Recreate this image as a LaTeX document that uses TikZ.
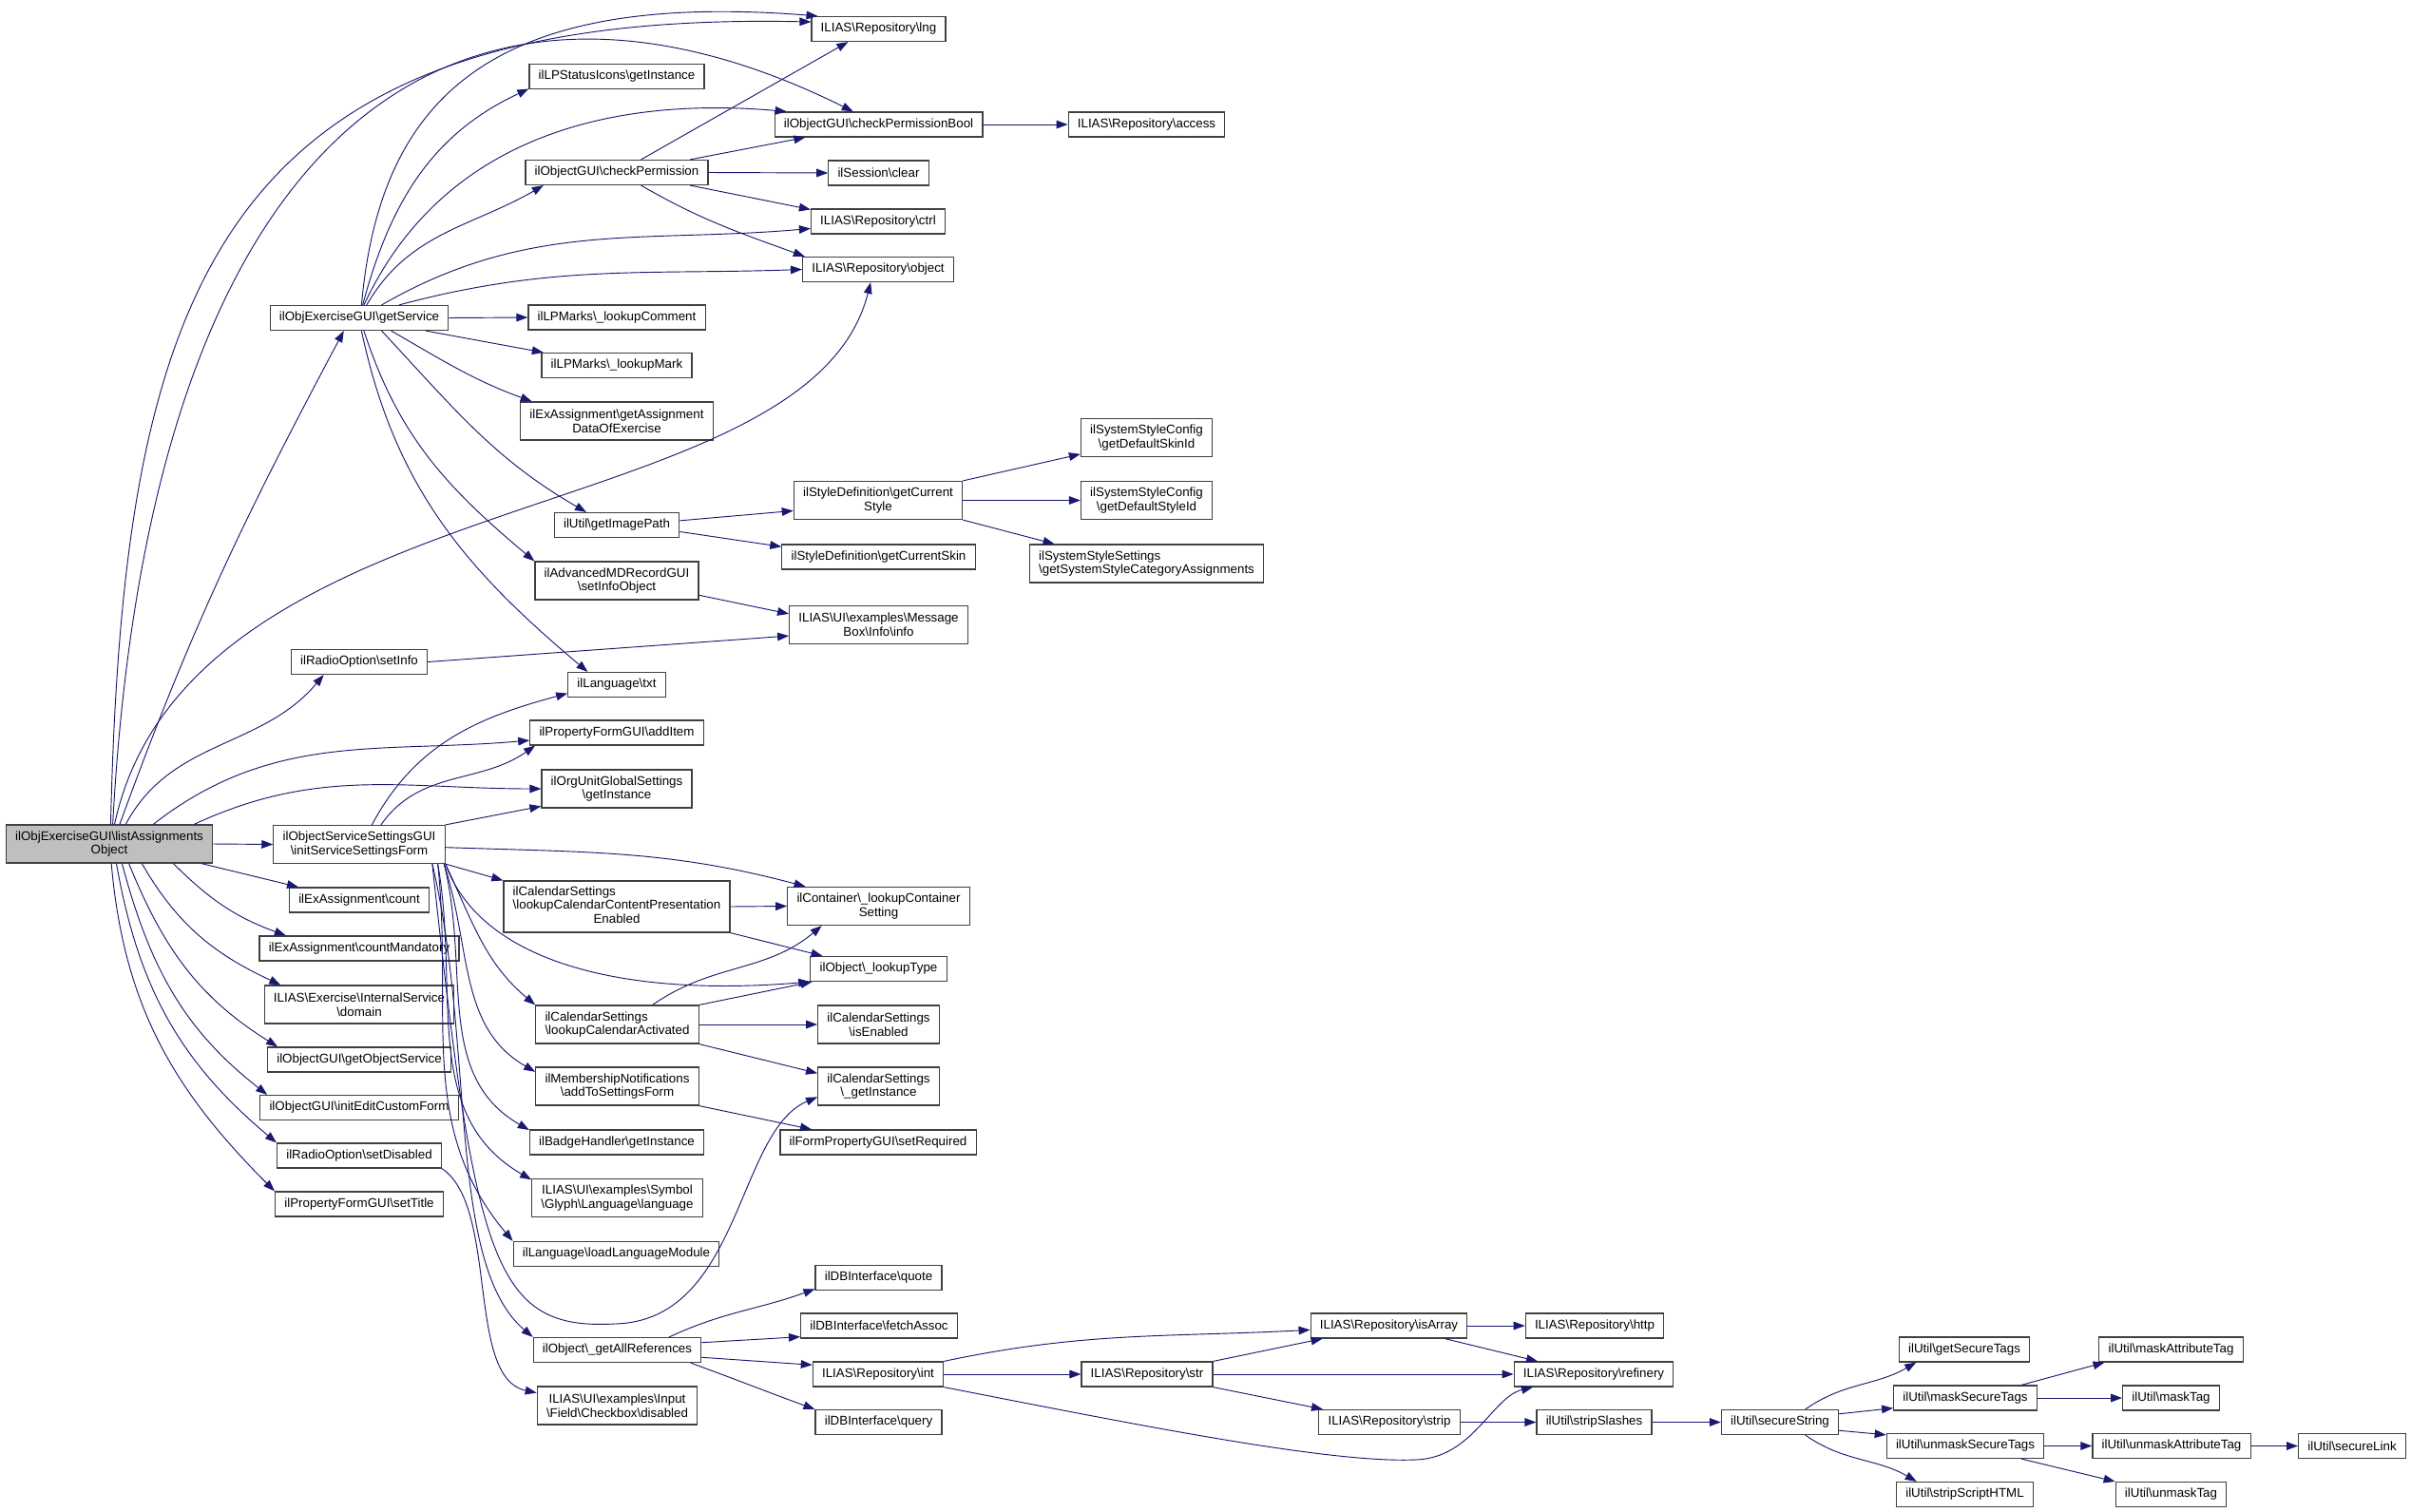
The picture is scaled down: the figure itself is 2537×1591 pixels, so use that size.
\documentclass[tikz,border=0pt]{standalone}
\usepackage{fontspec}
\setmainfont{Liberation Sans}
\usepackage{tikz}
\usetikzlibrary{arrows.meta}

\definecolor{callblue}{HTML}{191970}
\definecolor{rootgray}{HTML}{BFBFBF}
\newcommand{\nsep}{\textbackslash}

\begin{document}
\begin{tikzpicture}[
    x = 0.75pt, y = -0.75pt,
    fn/.style = {draw = black!75, line width = 0.9pt, fill = white,
      inner xsep = 7.3pt, inner ysep = 1pt, minimum height = 19.5pt,
      font = \fontsize{10}{11}\selectfont},
    fn2/.style = {fn, align = center, minimum height = 30pt},
    callline/.style = {draw = callblue, line width = 0.7pt,
      -{Triangle[length = 9pt, width = 6.5pt]}}
  ]
  \path[use as bounding box, fill = white] (0,0) rectangle (2537,1591);

  % caller and first level
  \node[fn2, fill = rootgray] (root) at (115,888) {ilObjExerciseGUI\nsep listAssignments\\Object};
  \node[fn] (getsvc) at (378,334.5) {ilObjExerciseGUI\nsep getService};
  \node[fn] (setinfo) at (378,696.5) {ilRadioOption\nsep setInfo};
  \node[fn2] (initssf) at (378,888.5) {ilObjectServiceSettingsGUI\\\nsep initServiceSettingsForm};
  \node[fn] (count) at (378,947) {ilExAssignment\nsep count};
  \node[fn] (countmand) at (378,998) {ilExAssignment\nsep countMandatory};
  \node[fn2] (domain) at (378,1057) {ILIAS\nsep Exercise\nsep InternalService\\\nsep domain};
  \node[fn] (getobjsvc) at (378,1115) {ilObjectGUI\nsep getObjectService};
  \node[fn] (editform) at (378,1165.5) {ilObjectGUI\nsep initEditCustomForm};
  \node[fn] (setdisabled) at (378,1216) {ilRadioOption\nsep setDisabled};
  \node[fn] (settitle) at (378,1267) {ilPropertyFormGUI\nsep setTitle};

  % second level
  \node[fn] (lpicons) at (649,80.5) {ilLPStatusIcons\nsep getInstance};
  \node[fn] (checkperm) at (649,181.5) {ilObjectGUI\nsep checkPermission};
  \node[fn] (lookupcomment) at (649,334) {ilLPMarks\nsep\_lookupComment};
  \node[fn] (lookupmark) at (649,384.5) {ilLPMarks\nsep\_lookupMark};
  \node[fn2] (assigndata) at (649,443) {ilExAssignment\nsep getAssignment\\DataOfExercise};
  \node[fn] (imagepath) at (649,552.5) {ilUtil\nsep getImagePath};
  \node[fn2] (setinfoobj) at (649,611) {ilAdvancedMDRecordGUI\\\nsep setInfoObject};
  \node[fn] (txt) at (649,720.5) {ilLanguage\nsep txt};
  \node[fn] (additem) at (649,771) {ilPropertyFormGUI\nsep addItem};
  \node[fn2] (orgunit) at (649,830) {ilOrgUnitGlobalSettings\\\nsep getInstance};
  \node[fn, minimum height = 40.5pt] (calpresent) at (649,954)
    {\begin{tabular}{@{}l@{}}ilCalendarSettings\\\nsep lookupCalendarContentPresentation\\\multicolumn{1}{@{}c@{}}{Enabled}\end{tabular}};
  \node[fn2, align = left] (calactive) at (649.5,1078) {ilCalendarSettings\\\nsep lookupCalendarActivated};
  \node[fn2] (notifyform) at (649.5,1143) {ilMembershipNotifications\\\nsep addToSettingsForm};
  \node[fn] (badge) at (649,1202) {ilBadgeHandler\nsep getInstance};
  \node[fn2] (glyphlang) at (649.5,1260.5) {ILIAS\nsep UI\nsep examples\nsep Symbol\\\nsep Glyph\nsep Language\nsep language};
  \node[fn] (loadlang) at (648.5,1319.5) {ilLanguage\nsep loadLanguageModule};
  \node[fn] (allrefs) at (649.5,1420.5) {ilObject\nsep\_getAllReferences};
  \node[fn2] (checkbox) at (649.5,1479) {ILIAS\nsep UI\nsep examples\nsep Input\\\nsep Field\nsep Checkbox\nsep disabled};

  % third level
  \node[fn] (lng) at (924.5,30.5) {ILIAS\nsep Repository\nsep lng};
  \node[fn] (permbool) at (924.5,131) {ilObjectGUI\nsep checkPermissionBool};
  \node[fn] (sessclear) at (924.5,182) {ilSession\nsep clear};
  \node[fn] (ctrl) at (924,233) {ILIAS\nsep Repository\nsep ctrl};
  \node[fn] (object) at (924,283.5) {ILIAS\nsep Repository\nsep object};
  \node[fn2] (curstyle) at (924,526.5) {ilStyleDefinition\nsep getCurrent\\Style};
  \node[fn] (curskin) at (924.5,586) {ilStyleDefinition\nsep getCurrentSkin};
  \node[fn2] (msginfo) at (924.5,657.5) {ILIAS\nsep UI\nsep examples\nsep Message\\Box\nsep Info\nsep info};
  \node[fn2] (contsetting) at (924.5,953.5) {ilContainer\nsep\_lookupContainer\\Setting};
  \node[fn] (lookuptype) at (924.5,1019.5) {ilObject\nsep\_lookupType};
  \node[fn2] (calenabled) at (924.5,1078) {ilCalendarSettings\\\nsep isEnabled};
  \node[fn2] (calinstance) at (924.5,1143) {ilCalendarSettings\\\nsep\_getInstance};
  \node[fn] (setrequired) at (924,1202) {ilFormPropertyGUI\nsep setRequired};
  \node[fn] (dbquote) at (924.5,1344.5) {ilDBInterface\nsep quote};
  \node[fn] (dbfetch) at (925,1395) {ilDBInterface\nsep fetchAssoc};
  \node[fn] (repoint) at (924,1446) {ILIAS\nsep Repository\nsep int};
  \node[fn] (dbquery) at (924.5,1496.5) {ilDBInterface\nsep query};

  % deeper levels
  \node[fn] (repoaccess) at (1206.5,131) {ILIAS\nsep Repository\nsep access};
  \node[fn2] (skinid) at (1206.5,460.5) {ilSystemStyleConfig\\\nsep getDefaultSkinId};
  \node[fn2] (styleid) at (1206.5,526.5) {ilSystemStyleConfig\\\nsep getDefaultStyleId};
  \node[fn2, align = left] (catassign) at (1206.5,593) {ilSystemStyleSettings\\\nsep getSystemStyleCategoryAssignments};
  \node[fn] (repostr) at (1207,1446) {ILIAS\nsep Repository\nsep str};
  \node[fn] (repoisarray) at (1461.5,1395) {ILIAS\nsep Repository\nsep isArray};
  \node[fn] (repostrip) at (1462,1496.5) {ILIAS\nsep Repository\nsep strip};
  \node[fn] (repohttp) at (1678,1395) {ILIAS\nsep Repository\nsep http};
  \node[fn] (reporefinery) at (1677,1446) {ILIAS\nsep Repository\nsep refinery};
  \node[fn] (stripslashes) at (1677.5,1496.5) {ilUtil\nsep stripSlashes};
  \node[fn] (securestring) at (1873,1496.5) {ilUtil\nsep secureString};
  \node[fn] (securetags) at (2067,1420) {ilUtil\nsep getSecureTags};
  \node[fn] (masksecure) at (2068,1471) {ilUtil\nsep maskSecureTags};
  \node[fn] (unmasksecure) at (2068,1521.5) {ilUtil\nsep unmaskSecureTags};
  \node[fn] (stripscript) at (2067.5,1572.5) {ilUtil\nsep stripScriptHTML};
  \node[fn] (maskattr) at (2284.5,1420) {ilUtil\nsep maskAttributeTag};
  \node[fn] (masktag) at (2284.5,1471) {ilUtil\nsep maskTag};
  \node[fn] (unmaskattr) at (2285,1521.5) {ilUtil\nsep unmaskAttributeTag};
  \node[fn] (unmasktag) at (2284.5,1572.5) {ilUtil\nsep unmaskTag};
  \node[fn] (securelink) at (2475,1521.5) {ilUtil\nsep secureLink};

  \coordinate (instdip) at (647,1393);
  \coordinate (refdip) at (1490,1536);

  % calls of listAssignmentsObject
  \draw[callline] (root.86) .. controls (130,300) and (230,10) .. (lng.174);
  \draw[callline] (root.80) .. controls (160,100) and (500,-80) .. (permbool.153);
  \draw[callline] (root.75) .. controls (200,500) and (850,560) .. (object.-120);
  \draw[callline] (root.62) to[out=70, in=-118] (getsvc.-140);
  \draw[callline] (root.50) to[out=62, in=-130] (setinfo.-160);
  \draw[callline] (root.24) to[out=38, in=185] (additem.-175);
  \draw[callline] (root.13) to[out=25, in=180] (orgunit.west);
  \draw[callline] (root.east) -- (initssf.west);
  \draw[callline] (root.-12) -- (count.168);
  \draw[callline] (root.-17) to[out=-45, in=160] (countmand.170);
  \draw[callline] (root.-31) to[out=-60, in=155] (domain.166);
  \draw[callline] (root.-45) to[out=-68, in=148] (getobjsvc.171);
  \draw[callline] (root.-57) to[out=-75, in=142] (editform.172);
  \draw[callline] (root.-70) to[out=-80, in=140] (setdisabled.north west);
  \draw[callline] (root.-84) to[out=-85, in=135] (settitle.north west);

  % calls of getService
  \draw[callline] (getsvc.80) .. controls (400,100) and (520,-10) .. (lng.168);
  \draw[callline] (getsvc.75) to[out=75, in=-155] (lpicons.-172);
  \draw[callline] (getsvc.70) to[out=65, in=175] (permbool.172);
  \draw[callline] (getsvc.60) to[out=60, in=-150] (checkperm.-170);
  \draw[callline] (getsvc.30) to[out=30, in=185] (ctrl.-174);
  \draw[callline] (getsvc.18) to[out=15, in=182] (object.west);
  \draw[callline] (getsvc.east) -- (lookupcomment.west);
  \draw[callline] (getsvc.-11) -- (lookupmark.170);
  \draw[callline] (getsvc.-22) to[out=-30, in=160] (assigndata.167);
  \draw[callline] (getsvc.-30) to[out=-47, in=150] (imagepath.157);
  \draw[callline] (getsvc.-70) to[out=-72, in=140] (setinfoobj.north west);
  \draw[callline] (getsvc.-80) to[out=-78, in=140] (txt.156);

  \draw[callline] (checkperm.28) -- (lng.-157);
  \draw[callline] (checkperm.10) -- (permbool.-170);
  \draw[callline] (checkperm.east) -- (sessclear.west);
  \draw[callline] (checkperm.-10) -- (ctrl.170);
  \draw[callline] (checkperm.-28) to[out=-30, in=160] (object.170);
  \draw[callline] (permbool.east) -- (repoaccess.west);

  \draw[callline] (imagepath.4) -- (curstyle.-173);
  \draw[callline] (imagepath.-6) -- (curskin.174);
  \draw[callline] (curstyle.north east) -- (skinid.-166);
  \draw[callline] (curstyle.east) -- (styleid.west);
  \draw[callline] (curstyle.south east) -- (catassign.168);
  \draw[callline] (setinfoobj.-10) -- (msginfo.173);
  \draw[callline] (setinfo.east) -- (msginfo.-173);

  % calls of initServiceSettingsForm
  \draw[callline] (initssf.57) to[out=62, in=195] (txt.-170);
  \draw[callline] (initssf.42) to[out=55, in=-145] (additem.-171);
  \draw[callline] (initssf.north east) -- (orgunit.-167);
  \draw[callline] (initssf.-2) to[out=-2, in=165] (contsetting.165);
  \draw[callline] (initssf.south east) -- (calpresent.north west);
  \draw[callline] (initssf.south east) .. controls (505,1010) and (650,1050) .. (lookuptype.south west);
  \draw[callline] (initssf.south east) to[out=-65, in=140] (calactive.north west);
  \draw[callline] (initssf.-13) to[out=-72, in=150] (notifyform.170);
  \draw[callline] (initssf.-13) to[out=-76, in=150] (badge.172);
  \draw[callline] (initssf.-14) to[out=-80, in=150] (glyphlang.168);
  \draw[callline] (initssf.-14) to[out=-84, in=130] (loadlang.north west);
  \draw[callline] (initssf.-15) .. controls (500,1330) and (520,1400) .. (instdip)
    .. controls (780,1390) and (775,1190) .. (calinstance.-170);
  \draw[callline] (initssf.-15) .. controls (500,1100) and (470,1330) .. (allrefs.north west);
  \draw[callline] (setdisabled.south east) .. controls (525,1270) and (490,1450) .. (checkbox.171);

  \draw[callline] (calpresent.east) -- (contsetting.west);
  \draw[callline] (calpresent.south east) -- (lookuptype.167);
  \draw[callline] (calactive.29) to[out=35, in=-140] (contsetting.-161);
  \draw[callline] (calactive.north east) -- (lookuptype.-169);
  \draw[callline] (calactive.east) -- (calenabled.west);
  \draw[callline] (calactive.south east) -- (calinstance.168);
  \draw[callline] (notifyform.south east) -- (setrequired.169);

  % calls of getAllReferences
  \draw[callline] (allrefs.14) to[out=25, in=-160] (dbquote.-170);
  \draw[callline] (allrefs.5) -- (dbfetch.-172);
  \draw[callline] (allrefs.-5) -- (repoint.172);
  \draw[callline] (allrefs.-10) to[out=-20, in=160] (dbquery.north west);
  \draw[callline] (repoint.north east) to[out=12, in=183] (repoisarray.-177);
  \draw[callline] (repoint.east) -- (repostr.west);
  \draw[callline] (repoint.south east) .. controls (1200,1500) and (1400,1540) .. (refdip)
    .. controls (1550,1534) and (1570,1470) .. (reporefinery.-168);
  \draw[callline] (repostr.north east) -- (repoisarray.-169);
  \draw[callline] (repostr.east) -- (reporefinery.west);
  \draw[callline] (repostr.south east) -- (repostrip.169);
  \draw[callline] (repoisarray.east) -- (repohttp.west);
  \draw[callline] (repoisarray.-13) -- (reporefinery.167);
  \draw[callline] (repostrip.east) -- (stripslashes.west);
  \draw[callline] (stripslashes.east) -- (securestring.west);

  \draw[callline] (securestring.27) to[out=35, in=-150] (securetags.-165);
  \draw[callline] (securestring.8) -- (masksecure.-172);
  \draw[callline] (securestring.-8) -- (unmasksecure.172);
  \draw[callline] (securestring.-27) to[out=-35, in=150] (stripscript.165);
  \draw[callline] (masksecure.13) -- (maskattr.-169);
  \draw[callline] (masksecure.east) -- (masktag.west);
  \draw[callline] (unmasksecure.east) -- (unmaskattr.west);
  \draw[callline] (unmasksecure.-13) -- (unmasktag.167);
  \draw[callline] (unmaskattr.east) -- (securelink.west);

\end{tikzpicture}
\end{document}
